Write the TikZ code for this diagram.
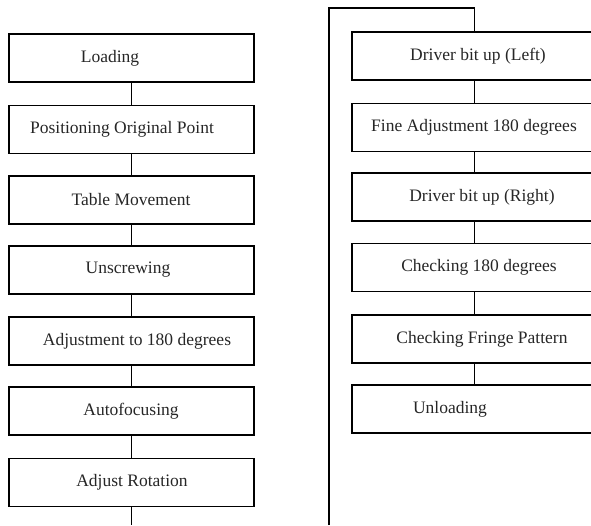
\documentclass[tikz,border=0pt]{standalone}
\usepackage{fontspec}
\setmainfont{Liberation Serif}
\begin{document}
\begin{tikzpicture}[x=1pt,y=-1pt,
  stepbox/.style={draw, line width=1.6pt, minimum width=245pt, minimum height=48pt, inner sep=0pt},
  lbl/.style={inner sep=0pt, font=\fontsize{17.5}{20}\selectfont, color=black!85},
  link/.style={line width=1.2pt}]
\useasboundingbox (0,0) rectangle (591,525);
\clip (0,0) rectangle (591,525);
% left column
\node[stepbox] (l1) at (131.5,58) {};
\node[stepbox] (l2) at (131.5,129.5) {};
\node[stepbox] (l3) at (131.5,200) {};
\node[stepbox] (l4) at (131.5,270) {};
\node[stepbox] (l5) at (131.5,341) {};
\node[stepbox] (l6) at (131.5,411) {};
\node[stepbox] (l7) at (131.5,482.5) {};
\node[lbl] (t1) at (110,58) {Loading};
\node[lbl] (t2) at (122,129.5) {Positioning Original Point};
\node[lbl] (t3) at (131,200) {Table Movement};
\node[lbl] (t4) at (128,270) {Unscrewing};
\node[lbl] (t5) at (137,341) {Adjustment to 180 degrees};
\node[lbl] (t6) at (131,411) {Autofocusing};
\node[lbl] (t7) at (132,482.5) {Adjust Rotation};
% right column
\node[stepbox] (r1) at (474.5,56) {};
\node[stepbox] (r2) at (474.5,127.5) {};
\node[stepbox] (r3) at (474.5,197) {};
\node[stepbox] (r4) at (474.5,267.5) {};
\node[stepbox] (r5) at (474.5,339) {};
\node[stepbox] (r6) at (474.5,409) {};
\node[lbl] (s1) at (478,56) {Driver bit up (Left)};
\node[lbl] (s2) at (474,127.5) {Fine Adjustment 180 degrees};
\node[lbl] (s3) at (482,197) {Driver bit up (Right)};
\node[lbl] (s4) at (479,267.5) {Checking 180 degrees};
\node[lbl] (s5) at (482,339) {Checking Fringe Pattern};
\node[lbl] (s6) at (450,409) {Unloading};
% connectors
\coordinate (lend) at (131.5,525);
\coordinate (rend) at (329,525);
\coordinate (rtop) at (329,8);
\foreach \a/\b in {l1/l2,l2/l3,l3/l4,l4/l5,l5/l6,l6/l7,r1/r2,r2/r3,r3/r4,r4/r5,r5/r6}
  \draw[link] (\a.south) -- (\b.north);
\draw[link] (l7.south) -- (lend);
\draw[link] (rend) -- (rtop) -| (r1.north);
\end{tikzpicture}
\end{document}
